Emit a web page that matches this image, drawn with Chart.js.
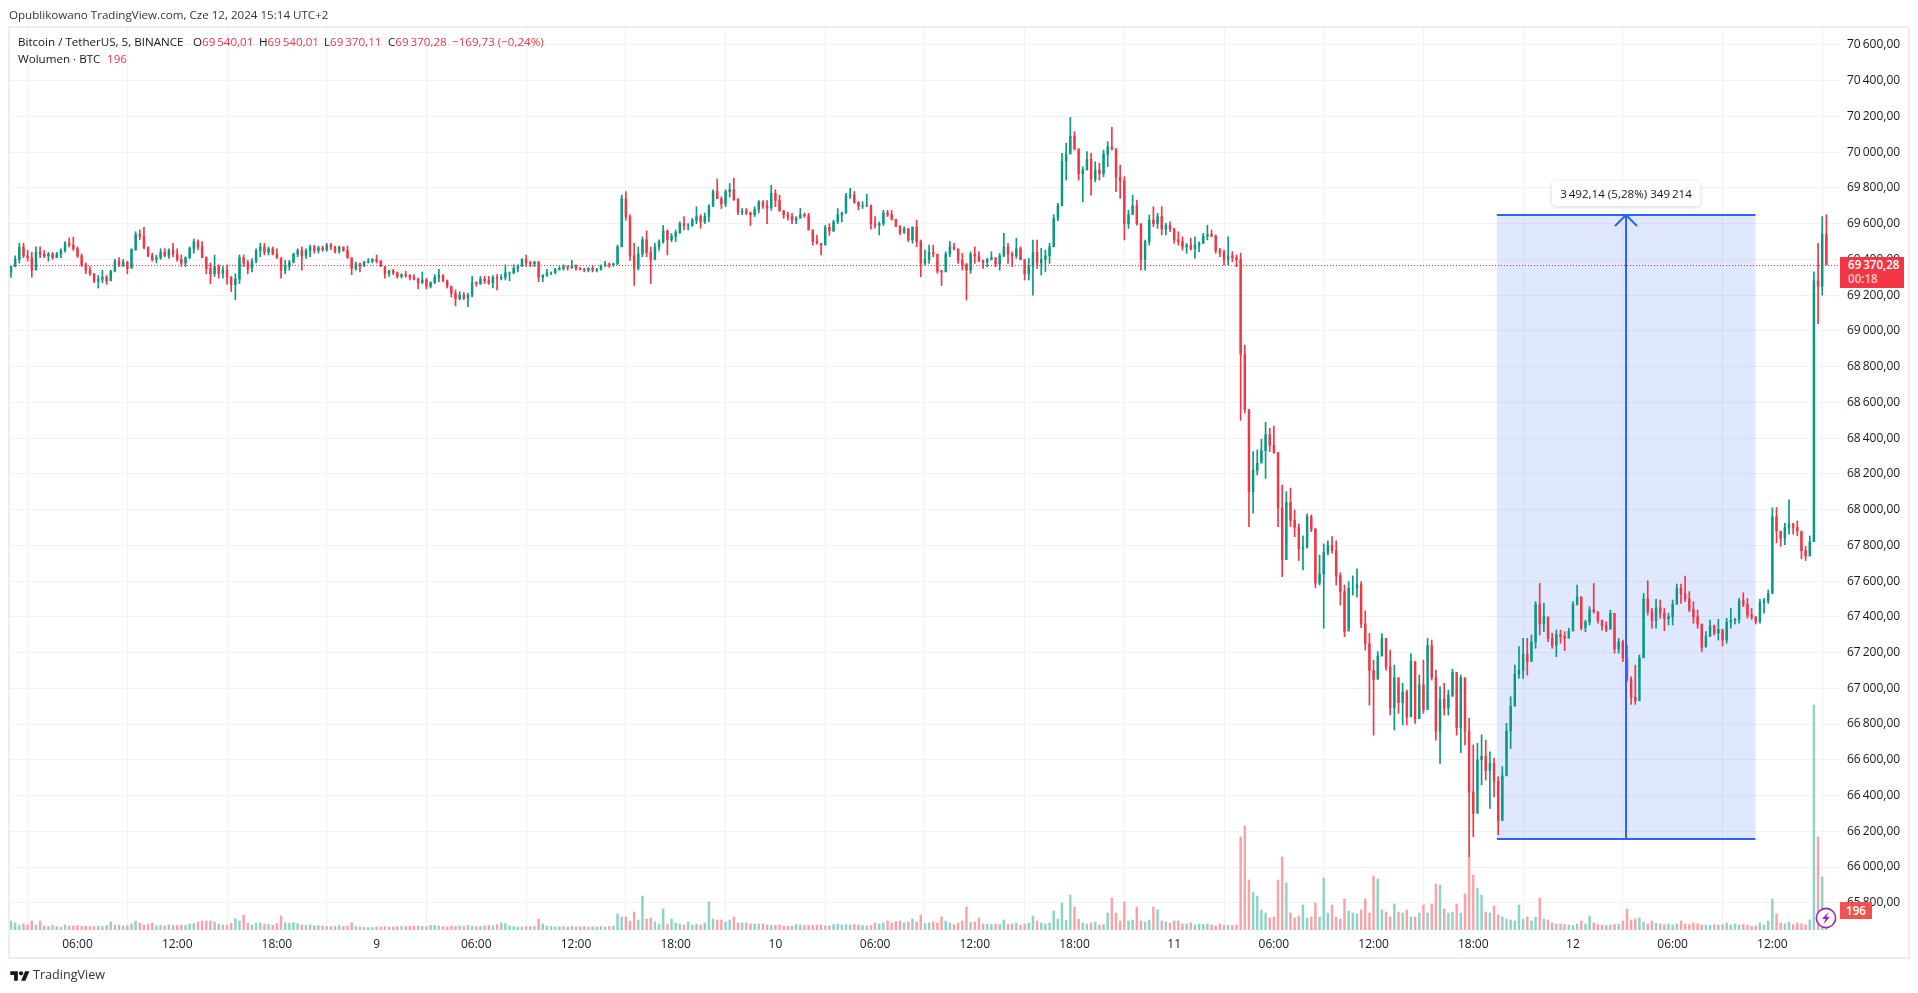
<!DOCTYPE html>
<html lang="pl"><head><meta charset="utf-8">
<title>BTCUSDT</title>
<script src="https://cdn.jsdelivr.net/npm/chart.js@4/dist/chart.umd.js"></script>
<style>
html,body{margin:0;padding:0;background:#fff;width:1918px;height:993px;overflow:hidden}
body{font-family:"Open Sans",sans-serif;color:#131722;font-size:11.6px}
canvas{position:absolute;left:0;top:0}
.t{position:absolute;white-space:pre;line-height:16px}
.r{color:#f23645}
</style></head><body>
<canvas id="c" width="1918" height="993"></canvas>
<div class="t" style="left:9px;top:7px;color:#333">Opublikowano TradingView.com, Cze 12, 2024 15:14 UTC+2</div>
<div class="t" style="left:18px;top:34px">Bitcoin / TetherUS, 5, BINANCE</div>
<div class="t" style="left:193px;top:34px">O<span class="r">69&#8201;540,01</span></div>
<div class="t" style="left:259px;top:34px">H<span class="r">69&#8201;540,01</span></div>
<div class="t" style="left:324px;top:34px">L<span class="r">69&#8201;370,11</span></div>
<div class="t" style="left:388px;top:34px">C<span class="r">69&#8201;370,28</span></div>
<div class="t r" style="left:452px;top:34px">−169,73 (−0,24%)</div>
<div class="t" style="left:18px;top:51px">Wolumen · BTC</div>
<div class="t r" style="left:107px;top:51px">196</div>
<div class="t" style="left:1552px;top:181px;width:148px;height:25px;line-height:25px;text-align:center;background:#fff;border-radius:4px;box-shadow:0 1px 4px rgba(0,0,0,.18)">3&#8201;492,14 (5,28%) 349&#8201;214</div>
<div class="t" style="left:1840px;top:257px;width:64px;height:31px;background:#f23645;color:#fff;font-weight:600;text-align:left;line-height:14px;padding:1px 0 0 8px;box-sizing:border-box">69&#8201;370,28<br><span style="opacity:.7">00:18</span></div>
<div class="t" style="left:1840px;top:902px;width:32px;height:17px;line-height:17px;background:#f0534f;color:#fff;font-weight:600;text-align:center">196</div>
<svg style="position:absolute;left:1814px;top:906px" width="24" height="24" viewBox="0 0 24 24"><circle cx="12" cy="12" r="9.6" fill="#fff" stroke="#9c27b0" stroke-width="1.6"/><path d="M14.5 6 8 13h3.5l-2 5L16 11h-3.5z" fill="#9c27b0"/></svg>
<svg style="position:absolute;left:10px;top:969px" width="20" height="14" viewBox="0 0 36 26"><path fill="#131722" d="M14 22H7V11H0V4h14v18zM28 22h-8l7.5-18h8L28 22z"/><circle fill="#131722" cx="20" cy="8" r="4"/></svg>
<div class="t" style="left:33px;top:967px;font-size:12.6px;color:#333">TradingView</div>
<script>
// Price candles, one per 15 minutes. The first starts at hour 2 of 8 June.
const firstHour = 2, hoursPerCandle = 0.25, firstOpen = 69330;
const highs = [
69360,69420,69490,69490,69450,69440,69470,69470,69450,69440,69440,69440,69460,69500,69520,69525,69470,69430,69380,69360,
69320,69310,69340,69310,69340,69400,69410,69400,69390,69460,69555,69565,69580,69470,69435,69425,69460,69460,69460,69490,
69460,69425,69415,69470,69515,69510,69500,69415,69380,69425,69370,69360,69370,69305,69320,69425,69425,69395,69405,69460,
69490,69490,69470,69470,69460,69405,69395,69395,69435,69460,69470,69460,69480,69480,69475,69475,69490,69490,69475,69475,
69470,69475,69405,69385,69380,69390,69405,69405,69425,69395,69360,69340,69345,69330,69320,69335,69315,69315,69295,69330,
69295,69275,69315,69345,69315,69285,69250,69230,69220,69215,69210,69305,69275,69305,69305,69305,69310,69315,69315,69370,
69330,69370,69370,69405,69425,69390,69390,69390,69315,69345,69330,69350,69360,69370,69365,69395,69370,69355,69350,69355,
69365,69350,69370,69390,69380,69380,69480,69760,69780,69650,69490,69470,69527,69560,69470,69490,69510,69590,69565,69545,
69565,69610,69640,69600,69630,69695,69650,69660,69705,69790,69850,69750,69790,69825,69855,69740,69685,69685,69665,69695,
69730,69730,69730,69815,69790,69760,69675,69665,69658,69640,69685,69660,69658,69565,69537,69490,69590,69600,69620,69685,
69665,69770,69798,69780,69723,69723,69765,69705,69640,69610,69675,69675,69675,69620,69590,69583,69575,69583,69620,69509,
69452,69480,69480,69387,69340,69443,69500,69490,69425,69434,69378,69443,69471,69443,69397,69406,69443,69387,69434,69546,
69490,69443,69518,69471,69378,69406,69509,69509,69462,69452,69490,69650,69714,69994,70050,70195,70115,70003,69919,70003,
69994,69947,69938,70012,70059,70139,69938,69928,69863,69676,69760,69732,69574,69509,69648,69695,69658,69695,69602,69611,
69574,69555,69527,69490,69518,69527,69499,69546,69592,69565,69537,69462,69452,69527,69443,69425,69435,68920,68558,68325,
68334,68394,68489,68455,68468,68315,68138,68100,68120,67998,67920,67853,67976,67970,67895,67746,67808,67825,67849,67825,
67647,67578,67597,67629,67668,67597,67433,67307,67158,67205,67307,67270,67214,67130,67018,67028,66990,67195,67121,67074,
67158,67280,67270,67102,67009,67028,66990,67106,67000,67074,66934,66832,66683,66692,66740,66710,66645,66608,66505,66561,
66804,66953,67130,67233,67280,67280,67298,67485,67587,67475,67336,67308,67326,67326,67317,67336,67485,67578,67513,67382,
67457,67587,67420,67382,67373,67438,67345,67280,67270,67242,67065,67130,67186,67531,67602,67447,67498,67494,67447,67420,
67494,67584,67584,67628,67541,67485,67438,67336,67317,67382,67354,67386,67317,67392,67447,67392,67503,67535,67503,67447,
67400,67498,67503,67550,68010,68012,67877,67923,68055,67923,67937,67869,67794,67853,69330,69490,69640,69650];
const lows = [
69300,69360,69380,69410,69390,69300,69380,69410,69410,69390,69400,69410,69410,69440,69470,69450,69410,69360,69320,69310,
69270,69240,69270,69260,69300,69330,69360,69360,69320,69360,69450,69510,69460,69415,69390,69380,69400,69415,69405,69415,
69390,69360,69360,69405,69435,69455,69415,69320,69265,69305,69295,69295,69260,69220,69175,69265,69360,69320,69330,69380,
69415,69425,69425,69425,69405,69295,69320,69340,69380,69415,69340,69405,69415,69435,69435,69445,69445,69455,69435,69435,
69445,69405,69315,69340,69330,69360,69380,69380,69380,69360,69295,69305,69315,69295,69295,69300,69285,69285,69235,69265,
69235,69240,69265,69275,69275,69240,69190,69140,69175,69175,69135,69190,69250,69260,69265,69260,69240,69230,69285,69285,
69280,69320,69330,69360,69360,69360,69360,69275,69275,69305,69315,69320,69340,69340,69340,69350,69340,69340,69330,69330,
69330,69330,69340,69360,69355,69360,69370,69510,69620,69395,69255,69340,69415,69415,69265,69397,69450,69490,69425,69500,
69500,69545,69565,69565,69585,69600,69575,69600,69610,69695,69750,69685,69695,69750,69730,69650,69650,69650,69590,69640,
69660,69685,69600,69675,69695,69675,69630,69620,69600,69600,69640,69635,69565,69480,69485,69425,69500,69535,69555,69600,
69610,69658,69742,69714,69677,69685,69695,69570,69575,69537,69590,69640,69620,69583,69537,69546,69500,69490,69471,69303,
69370,69378,69415,69322,69253,69360,69415,69452,69378,69340,69173,69322,69378,69387,69350,69359,69397,69359,69340,69415,
69378,69359,69406,69397,69285,69285,69200,69350,69313,69332,69378,69518,69617,69732,69844,70012,70012,69844,69723,69938,
69760,69835,69844,69863,69919,70012,69779,69742,69509,69574,69667,69592,69340,69340,69480,69583,69574,69537,69537,69555,
69490,69480,69452,69434,69452,69406,69443,69490,69509,69527,69434,69415,69369,69369,69387,69359,68500,68540,67905,67980,
68194,68278,68175,68325,68315,67905,67625,67815,67905,67849,67715,67662,67784,67877,67563,67578,67336,67746,67756,67578,
67466,67289,67345,67522,67510,67340,67215,66906,66738,67074,67186,67102,66850,66767,66860,66795,66795,66841,66804,66832,
66860,67149,67046,66710,66580,66850,66850,66953,66738,66640,66683,66058,66170,66430,66460,66487,66328,66393,66180,66281,
66608,66664,66943,67056,67056,67074,67158,67224,67298,67317,67261,67224,67177,67252,67211,67298,67336,67466,67326,67317,
67354,67420,67364,67326,67317,67336,67196,67196,67149,67037,66910,66910,67065,67177,67410,67336,67336,67392,67322,67354,
67354,67494,67475,67485,67429,67364,67336,67205,67242,67308,67298,67270,67237,67252,67336,67360,67364,67457,67392,67386,
67360,67364,67420,67475,67546,67814,67794,67804,67863,67863,67853,67725,67715,67758,67850,69040,69200,69370];
const closes = [
69360,69400,69470,69420,69410,69340,69440,69430,69420,69430,69410,69430,69450,69490,69480,69460,69420,69370,69340,69320,
69280,69290,69300,69280,69335,69390,69370,69385,69350,69455,69540,69530,69465,69420,69400,69410,69440,69420,69450,69430,
69400,69380,69410,69460,69500,69470,69410,69350,69320,69360,69320,69340,69300,69260,69290,69410,69380,69350,69390,69450,
69470,69440,69460,69430,69410,69340,69360,69385,69430,69450,69420,69450,69470,69450,69465,69455,69480,69470,69445,69470,
69450,69410,69350,69375,69365,69385,69390,69400,69390,69360,69320,69335,69325,69305,69315,69310,69300,69290,69270,69285,
69250,69270,69300,69310,69280,69250,69210,69180,69200,69185,69200,69270,69265,69290,69280,69270,69300,69295,69300,69325,
69325,69350,69365,69400,69380,69375,69385,69300,69310,69325,69325,69345,69350,69360,69355,69365,69350,69345,69340,69350,
69340,69345,69365,69375,69370,69375,69470,69740,69640,69420,69350,69430,69510,69440,69400,69470,69500,69560,69510,69530,
69550,69600,69590,69590,69620,69640,69610,69640,69700,69780,69740,69710,69780,69790,69735,69665,69670,69660,69650,69680,
69720,69700,69690,69770,69730,69670,69650,69640,69620,69630,69650,69645,69565,69500,69490,69480,69580,69560,69610,69650,
69660,69755,69760,69720,69700,69700,69700,69600,69590,69600,69660,69650,69625,69585,69550,69570,69510,69580,69500,69380,
69400,69440,69430,69335,69330,69430,69470,69460,69395,69370,69340,69430,69420,69395,69385,69400,69410,69375,69420,69470,
69430,69420,69460,69400,69320,69360,69440,69380,69400,69420,69470,69630,69700,69950,69990,70090,70020,69880,69900,69960,
69850,69900,69880,69990,70030,70020,69860,69840,69600,69650,69700,69600,69400,69500,69620,69600,69640,69570,69590,69570,
69510,69500,69470,69480,69460,69480,69490,69530,69540,69530,69450,69440,69400,69420,69410,69400,68870,68560,68100,68220,
68260,68330,68420,68360,68320,68010,67720,68040,67940,67900,67780,67790,67960,67890,67590,67640,67760,67800,67770,67630,
67540,67320,67560,67560,67580,67360,67250,67100,67050,67180,67280,67120,66890,67060,66920,66980,66840,67150,66830,67020,
66880,67240,67060,66760,66940,66890,66960,67090,66780,67060,66760,66420,66300,66600,66620,66540,66580,66480,66260,66510,
66760,66900,67080,67100,67190,67150,67260,67470,67360,67400,67280,67240,67300,67290,67280,67320,67470,67510,67340,67370,
67440,67430,67380,67350,67330,67420,67220,67260,67170,67050,66950,66930,67170,67500,67430,67380,67450,67420,67390,67400,
67470,67560,67530,67500,67440,67400,67360,67230,67290,67350,67310,67330,67270,67370,67380,67385,67490,67470,67410,67400,
67375,67480,67490,67530,67960,67880,67840,67900,67920,67900,67880,67770,67740,67820,69280,69250,69540,69370.28];
const volumes = [
90,70,50,60,50,90,50,90,40,35,45,35,30,50,40,40,45,35,40,35,
35,40,35,45,80,50,50,40,45,60,90,70,50,60,70,40,45,40,50,45,
45,50,45,60,65,80,90,90,90,80,60,50,50,70,115,90,150,70,50,70,
70,60,55,50,65,140,75,70,75,65,50,45,50,40,45,40,35,35,35,45,
35,40,70,35,30,25,25,25,30,30,35,30,30,35,35,35,35,40,40,35,
35,45,45,40,35,30,40,35,40,35,45,40,35,35,40,45,40,55,70,65,
40,35,30,30,35,35,35,110,60,40,35,30,30,35,30,35,30,30,35,30,
30,30,35,30,35,40,160,130,130,90,180,100,340,110,120,80,60,210,60,110,
70,60,50,80,50,60,50,70,280,110,100,100,80,100,130,70,70,70,60,60,
60,60,50,45,45,50,40,35,40,55,50,45,45,45,50,50,40,40,55,60,
50,55,50,55,50,45,40,45,70,60,70,90,70,85,90,70,80,110,80,150,
65,70,80,70,130,90,70,55,70,90,230,75,80,120,60,60,55,60,55,100,
55,60,70,50,60,70,140,90,70,60,70,190,110,270,100,350,230,110,70,60,
70,80,50,55,170,320,170,90,280,90,100,230,90,80,100,230,200,90,80,70,
90,90,60,60,70,50,60,55,60,50,40,60,50,45,45,50,930,1040,500,380,
340,200,170,120,130,500,730,470,170,120,140,250,120,130,270,130,520,170,250,130,
110,310,190,170,160,200,310,170,540,510,200,180,130,260,180,170,200,130,130,170,
250,170,260,460,450,210,170,180,260,170,360,730,550,420,350,180,170,240,150,130,
110,100,90,250,110,130,90,130,320,110,100,70,60,60,55,50,45,60,90,60,
140,70,55,50,45,50,55,60,90,210,100,110,120,80,60,90,70,60,55,60,
50,60,90,60,55,70,60,50,50,45,55,50,55,70,50,60,50,55,50,40,
40,70,50,90,310,160,70,60,80,55,70,60,50,100,2250,930,530,196];
// Axes
const priceTicks = [65800,66000,66200,66400,66600,66800,67000,67200,67400,67600,67800,68000,68200,68400,68600,68800,69000,69200,69400,69600,69800,70000,70200,70400,70600];
const timeTickHours = [6,12,18,24,30,36,42,48,54,60,66,72,78,84,90,96,102,108];
const timeTickLabels = ["06:00","12:00","18:00","9","06:00","12:00","18:00","10","06:00","12:00","18:00","11","06:00","12:00","18:00","12","06:00","12:00"];
// Price measurement drawing and last price
const lastPrice = 69370.28;
const rangeLowPrice = 66155, rangeHighPrice = 69647.14;
const rangeStartHour = 91.42, rangeEndHour = 106.98, rangeArrowHour = 99.17;

const GREEN = '#089981', RED = '#f23645', GREEN_V = '#8fd2c6', RED_V = '#f9a3a8', BLUE = '#2962ff', GRID = '#f1f2f5';
const hours = closes.map((_, i) => firstHour + i * hoursPerCandle);
const opens = closes.map((_, i) => i === 0 ? firstOpen : closes[i - 1]);
const up = closes.map((c, i) => c >= opens[i]);
const fmt = v => { const s = v.toFixed(2).replace('.', ','); return s.slice(0, s.length - 6) + '\u2009' + s.slice(-6); };

const overlay = {
  id: 'overlay',
  beforeDatasetsDraw(ch) {
    const { ctx, scales: { x, y } } = ch;
    ctx.save();
    ctx.fillStyle = 'rgba(41,98,255,0.15)';
    ctx.fillRect(x.getPixelForValue(rangeStartHour), y.getPixelForValue(rangeHighPrice),
      x.getPixelForValue(rangeEndHour) - x.getPixelForValue(rangeStartHour),
      y.getPixelForValue(rangeLowPrice) - y.getPixelForValue(rangeHighPrice));
    ctx.restore();
  },
  afterDatasetsDraw(ch) {
    const { ctx, chartArea: a, scales: { x, y } } = ch;
    ctx.save();
    const yl = Math.round(y.getPixelForValue(lastPrice)) + .5;
    ctx.strokeStyle = RED; ctx.lineWidth = 1; ctx.setLineDash([1, 2]);
    ctx.beginPath(); ctx.moveTo(a.left, yl); ctx.lineTo(a.right, yl); ctx.stroke();
    ctx.setLineDash([]);
    const x0 = x.getPixelForValue(rangeStartHour), x1 = x.getPixelForValue(rangeEndHour), xm = Math.round(x.getPixelForValue(rangeArrowHour));
    const yt = Math.round(y.getPixelForValue(rangeHighPrice)), yb = Math.round(y.getPixelForValue(rangeLowPrice));
    ctx.strokeStyle = BLUE; ctx.lineWidth = 2;
    ctx.beginPath();
    ctx.moveTo(x0, yt); ctx.lineTo(x1, yt);
    ctx.moveTo(x0, yb); ctx.lineTo(x1, yb);
    ctx.moveTo(xm, yb); ctx.lineTo(xm, yt);
    ctx.moveTo(xm - 11, yt + 11); ctx.lineTo(xm, yt); ctx.lineTo(xm + 11, yt + 11);
    ctx.stroke();
    ctx.strokeStyle = '#eceef4'; ctx.lineWidth = 2;
    ctx.strokeRect(9, 27, 1900, 931);
    ctx.restore();
  }
};

new Chart(document.getElementById('c'), {
  type: 'bar',
  plugins: [overlay],
  data: { datasets: [
    { label: 'Wolumen', yAxisID: 'v', order: 3, barThickness: 1.8,
      data: hours.map((h, i) => ({ x: h, y: volumes[i] })),
      backgroundColor: up.map(u => u ? GREEN_V : RED_V) },
    { label: 'Knoty', yAxisID: 'y', order: 2, barThickness: 1,
      data: hours.map((h, i) => ({ x: h, y: [lows[i], highs[i]] })),
      backgroundColor: up.map(u => u ? GREEN : RED) },
    { label: 'Korpusy', yAxisID: 'y', order: 1, barThickness: 1.8,
      data: hours.map((h, i) => ({ x: h, y: [opens[i], closes[i]] })),
      backgroundColor: up.map(u => u ? GREEN : RED) }
  ] },
  options: {
    responsive: false, animation: false, events: [],
    layout: { padding: { left: 10, top: 28, right: 0, bottom: 0 } },
    plugins: { legend: { display: false }, tooltip: { enabled: false } },
    datasets: { bar: { grouped: false } },
    scales: {
      x: { type: 'linear', min: 1.938, max: 112.07, offset: false,
        afterFit: s => { s.height = 63; },
        afterBuildTicks: s => { s.ticks = timeTickHours.map(v => ({ value: v })); },
        grid: { color: GRID, drawTicks: false }, border: { display: false },
        ticks: { autoSkip: false, maxRotation: 0, padding: 7, color: '#131722', font: { family: '"Open Sans"', size: 12 },
          callback: v => timeTickLabels[timeTickHours.indexOf(v)] } },
      y: { position: 'right', min: 65647.6, max: 70695.1,
        afterFit: s => { s.width = 78; },
        afterBuildTicks: s => { s.ticks = priceTicks.map(v => ({ value: v })); },
        grid: { color: GRID, drawTicks: false }, border: { display: false },
        ticks: { padding: 7, color: '#131722', font: { family: '"Open Sans"', size: 12 }, callback: fmt } },
      v: { display: false, min: 0, max: 9020 }
    }
  }
});
</script>
</body></html>
